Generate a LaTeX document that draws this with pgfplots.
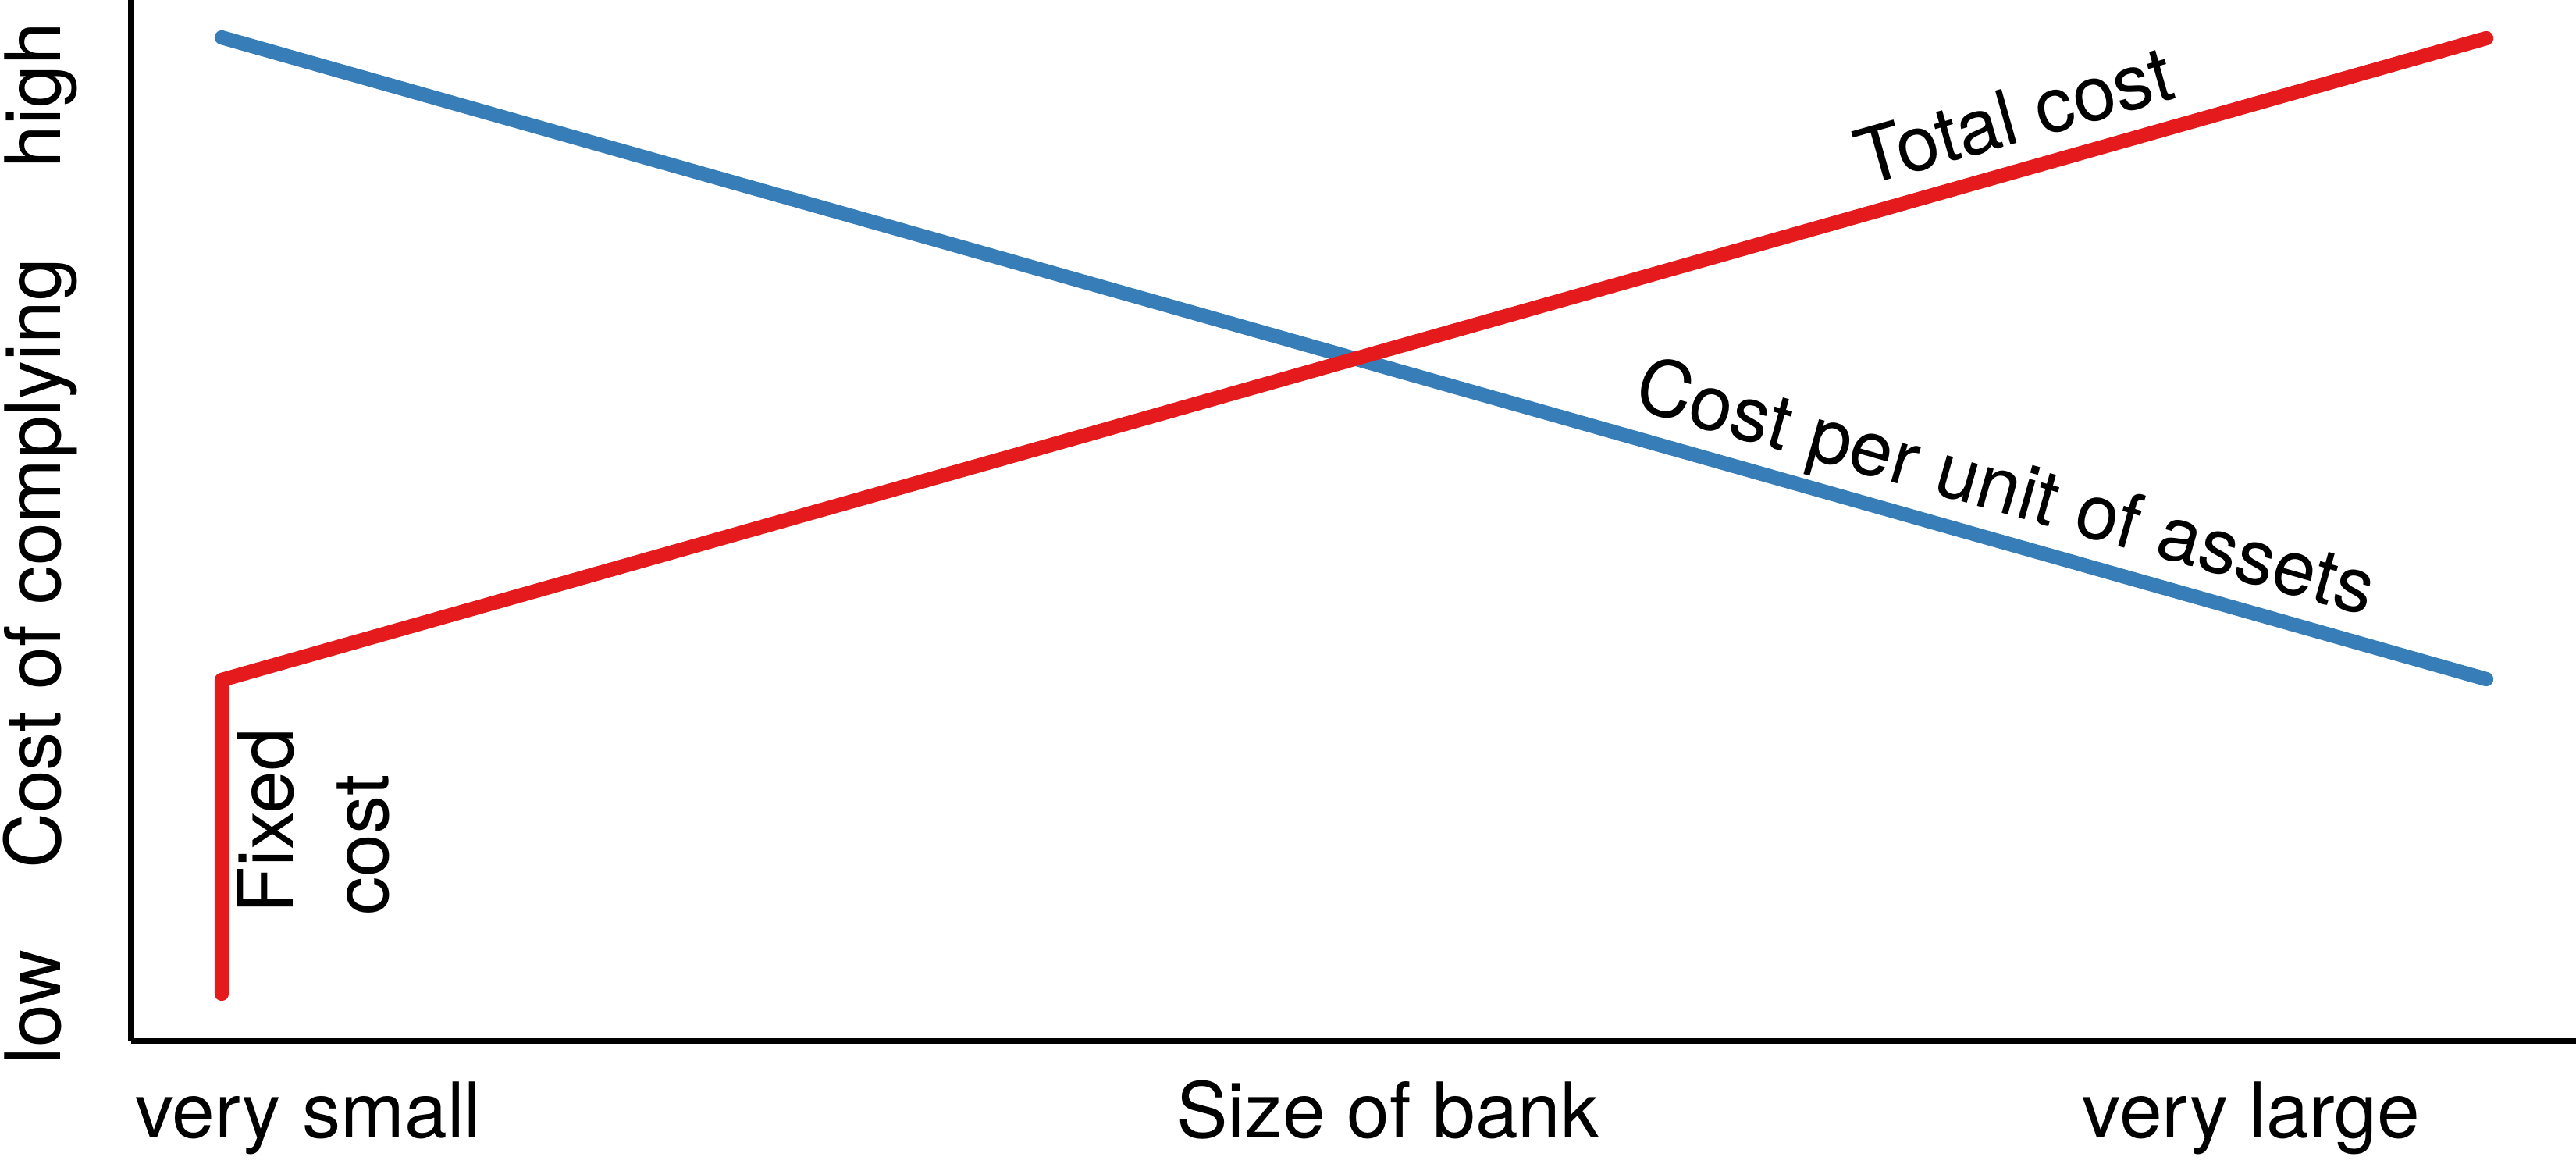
\documentclass[border=0pt]{standalone}
\usepackage{fontspec}
\setmainfont{TeX Gyre Heros}
\usepackage{pgfplots}
\pgfplotsset{compat=1.18}
\definecolor{setred}{HTML}{E41A1C}
\definecolor{setblue}{HTML}{377EB8}
\begin{document}
\begin{tikzpicture}[lbl/.style={font=\fontsize{14}{17}\selectfont, inner sep=0pt}]
% axis units are pixels of the 3300x1500 reference
\begin{axis}[
    width=445.5pt, height=189.6pt, scale only axis,
    xmin=0, xmax=3132, ymin=0, ymax=1333,
    axis x line=bottom, axis y line=left,
    axis line style={-, line width=1.1pt},
    xtick=\empty, ytick=\empty,
    clip=false,
  ]
  \addplot[setblue, line width=2.6pt, line cap=round, line join=round]
    coordinates {(116,1285) (3017,463)};
  \addplot[setred, line width=2.6pt, line cap=round, line join=round]
    coordinates {(116,60) (116,462) (3017,1284)};

  \node[lbl, anchor=base] at (axis cs:227,-125) {very small};
  \node[lbl, anchor=base] at (axis cs:1610,-125) {Size of bank};
  \node[lbl, anchor=base] at (axis cs:2716,-125) {very large};

  \node[lbl, anchor=base, rotate=90] at (axis cs:-90,43) {low};
  \node[lbl, anchor=base, rotate=90] at (axis cs:-90,611) {Cost of complying};
  \node[lbl, anchor=base, rotate=90] at (axis cs:-90,1211) {high};

  \node[lbl, anchor=base west, rotate=90] at (axis cs:207,161) {Fixed};
  \node[lbl, anchor=base west, rotate=90] at (axis cs:329,159) {cost};

  \node[lbl, rotate=15.8] at (axis cs:2412,1185) {Total cost};
  \node[lbl, rotate=-15.8] at (axis cs:2400,702) {Cost per unit of assets};

  \coordinate (bbsw) at (axis cs:-168,-167);
  \coordinate (bbne) at (axis cs:3132,1333);
\end{axis}
\pgfresetboundingbox
\path[use as bounding box] (bbsw) rectangle (bbne);
\end{tikzpicture}
\end{document}
